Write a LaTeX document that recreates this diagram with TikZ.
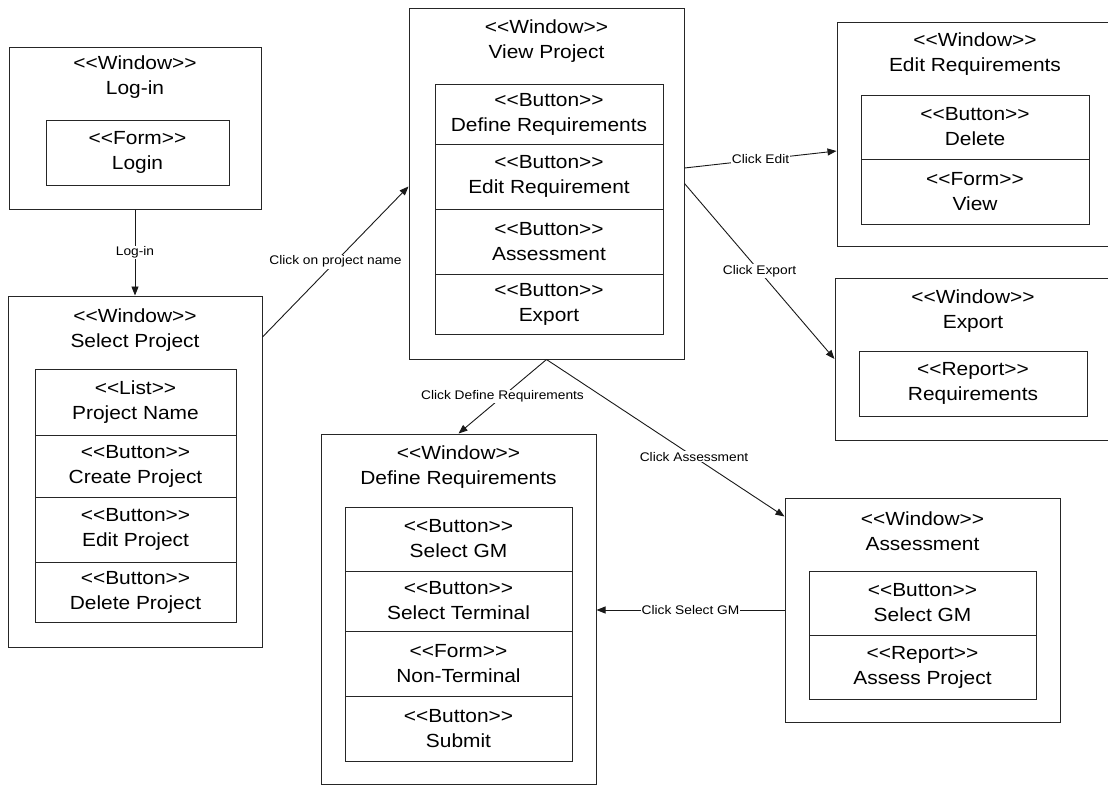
\documentclass[tikz,border=0pt]{standalone}
\usepackage{fontspec}
\setmainfont{Liberation Sans}[FakeStretch=1.1]
\usetikzlibrary{arrows.meta,calc}
% stereotype marker, kept from turning into guillemets
\newcommand\stype[1]{<{}<#1>{}>}
\newcommand\boxfont{\fontsize{19}{25}\selectfont}
\newcommand\labfont{\fontsize{12.5}{15}\selectfont}
\begin{document}
\begin{tikzpicture}[x=1pt,y=-1pt,
  box/.style={draw=black!85, line width=1pt, inner sep=0pt, fill=white},
  size/.style 2 args={minimum width=#1pt, minimum height=#2pt},
  title/.style={align=center, font=\boxfont, inner sep=0pt},
  cell/.style={box, align=center, font=\boxfont},
  flow/.style={draw=black!90, line width=0.9pt, -{Triangle[length=9pt,width=7pt]}},
  lab/.style={fill=white, font=\labfont, inner sep=1pt}]
\useasboundingbox (0,0) rectangle (1108,785);
\clip (0,0) rectangle (1108,785);
\fill[white] (0,0) rectangle (1108,785);

% Log-in window
\node[box, size={252}{162}] (login) at (135,128) {};
\node[title] at (135,77.5) {\stype{Window}\\Log-in};
\node[cell, size={183}{65}] (loginform) at (137.5,152.5) {\stype{Form}\\Login};

% Select Project window
\node[box, size={254}{351}] (sel) at (135,471.5) {};
\node[title] at (135,330) {\stype{Window}\\Select Project};
\node[cell, size={201}{66}] (sel1) at (135.5,402) {\stype{List}\\Project Name};
\node[cell, size={201}{62}] (sel2) at (135.5,466) {\stype{Button}\\Create Project};
\node[cell, size={201}{65}] (sel3) at (135.5,529.5) {\stype{Button}\\Edit Project};
\node[cell, size={201}{60}] (sel4) at (135.5,592) {\stype{Button}\\Delete Project};

% View Project window
\node[box, size={275}{351}] (view) at (546.5,183.5) {};
\node[title] at (546.5,41) {\stype{Window}\\View Project};
\node[cell, size={228}{60}] (view1) at (549,114) {\stype{Button}\\Define Requirements};
\node[cell, size={228}{65}] (view2) at (549,176.5) {\stype{Button}\\Edit Requirement};
\node[cell, size={228}{65}] (view3) at (549,241.5) {\stype{Button}\\Assessment};
\node[cell, size={228}{60}] (view4) at (549,304) {\stype{Button}\\Export};

% Edit Requirements window
\node[box, size={276}{224}] (edit) at (975,134) {};
\node[title] at (975,54) {\stype{Window}\\Edit Requirements};
\node[cell, size={228}{64}] (edit1) at (975,127) {\stype{Button}\\Delete};
\node[cell, size={228}{65}] (edit2) at (975,191.5) {\stype{Form}\\View};

% Export window
\node[box, size={276}{162}] (export) at (973,359) {};
\node[title] at (973,311.5) {\stype{Window}\\Export};
\node[cell, size={228}{65}] (export1) at (973,383.5) {\stype{Report}\\Requirements};

% Define Requirements window
\node[box, size={275}{350}] (def) at (458.5,609) {};
\node[title] at (458.5,467.5) {\stype{Window}\\Define Requirements};
\node[cell, size={227}{64}] (def1) at (458.5,539) {\stype{Button}\\Select GM};
\node[cell, size={227}{60}] (def2) at (458.5,601) {\stype{Button}\\Select Terminal};
\node[cell, size={227}{65}] (def3) at (458.5,663.5) {\stype{Form}\\Non-Terminal};
\node[cell, size={227}{65}] (def4) at (458.5,728.5) {\stype{Button}\\Submit};

% Assessment window
\node[box, size={275}{224}] (assess) at (922.5,610) {};
\node[title] at (922.5,531) {\stype{Window}\\Assessment};
\node[cell, size={227}{64}] (assess1) at (922.5,603) {\stype{Button}\\Select GM};
\node[cell, size={227}{64}] (assess2) at (922.5,667) {\stype{Report}\\Assess Project};

% Navigation between windows
\draw[flow] (login.south) -- node[lab] {Log-in} (sel.north);
\draw[flow] ([yshift=134.5pt]sel.east) -- node[lab] {Click on project name} ([yshift=-3pt]view.west);
\draw[flow] ([yshift=15.5pt]view.east) -- node[lab] {Click Edit} ([yshift=-17pt]edit.west);
\draw[flow] (view.east) -- node[lab] {Click Export} (export.west);
\draw[flow] (view.south) -- node[lab] {Click Define Requirements} (def.north);
\draw[flow] (view.south) -- node[lab, pos=0.62] {Click Assessment} ([yshift=-19pt]assess.north west);
\draw[flow] (assess.west) -- node[lab] {Click Select GM} (assess.west -| def.east);
\end{tikzpicture}
\end{document}
